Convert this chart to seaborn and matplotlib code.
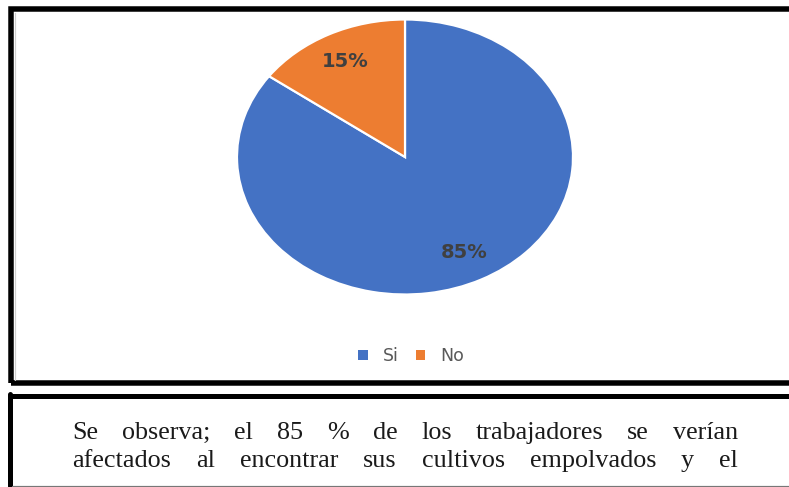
import matplotlib
matplotlib.use("Agg")
import matplotlib.pyplot as plt
import seaborn as sns
from matplotlib.patches import Rectangle, Patch
from matplotlib.lines import Line2D

categories = ["Si", "No"]
values = [85, 15]
colors = ["#4472C4", "#ED7D31"]
caption_lines = [
    "Se observa; el 85 % de los trabajadores se verían",
    "afectados al encontrar sus cultivos empolvados y el",
]

sns.set_theme(style="white")
plt.rcParams["font.family"] = ["DejaVu Sans"]

W, H = 789, 487
fig = plt.figure(figsize=(W / 100, H / 100), dpi=100)
fig.patch.set_facecolor("white")


def fx(x):
    return x / W


def fy(y):
    return 1 - y / H


def lw(px):
    return px * 72 / 100


# boxes
fig.add_artist(Rectangle((fx(10.5), fy(383)), fx(820) - fx(10.5), fy(9.5) - fy(383),
                         transform=fig.transFigure, fill=False, edgecolor="black",
                         linewidth=lw(5.5), clip_on=False))
fig.add_artist(Line2D([fx(14.5), fx(14.5)], [fy(13), fy(380)], transform=fig.transFigure,
                      color="#cfcfcf", linewidth=lw(1.2)))
fig.add_artist(Line2D([fx(10), fx(820)], [fy(396), fy(396)], transform=fig.transFigure,
                      color="black", linewidth=lw(5)))
fig.add_artist(Line2D([fx(9.5), fx(9.5)], [fy(394), fy(486)], transform=fig.transFigure,
                      color="black", linewidth=lw(5)))
fig.add_artist(Line2D([fx(12), fx(820)], [fy(485.5), fy(485.5)], transform=fig.transFigure,
                      color="#777777", linewidth=lw(1.2)))

# pie
cx, cy, rx, ry = 405, 157, 168, 137.5
ax = fig.add_axes([fx(cx - rx), fy(cy + ry), (2 * rx) / W, (2 * ry) / H])
wedges, texts, autotexts = ax.pie(
    values, colors=colors, startangle=90, counterclock=False,
    autopct=lambda p: f"{p:.0f}%", pctdistance=0.78,
    wedgeprops=dict(edgecolor="white", linewidth=lw(2.2)),
    textprops=dict(color="#404040", fontsize=14, fontweight="bold"),
)
ax.set_aspect("auto")
ax.set_xlim(-1, 1)
ax.set_ylim(-1, 1)
ax.axis("off")
for w in wedges:
    w.set_clip_on(False)

handles = [Patch(facecolor=c, edgecolor="none", label=l) for c, l in zip(colors, categories)]
fig.legend(handles=handles, loc="center", bbox_to_anchor=(fx(411), fy(356)), ncol=2,
           frameon=False, fontsize=12.5, handlelength=0.55, handleheight=0.55,
           handletextpad=0.85, columnspacing=1.0, labelcolor="#595959")

# justified caption
x0, x1 = 72, 738
line_y = [439, 467]
renderer = fig.canvas.get_renderer()
for line, yy in zip(caption_lines, line_y):
    words = line.split(" ")
    objs = [fig.text(0, fy(yy), w, family=["Liberation Serif", "DejaVu Serif"],
                     fontsize=18.8, color="#1a1a1a", va="baseline", ha="left")
            for w in words]
    widths = [o.get_window_extent(renderer).width for o in objs]
    gap = (x1 - x0 - sum(widths)) / (len(words) - 1)
    pos = x0
    for o, wd in zip(objs, widths):
        o.set_x(fx(pos))
        pos += wd + gap

fig.savefig("out.png", dpi=100, facecolor="white")
